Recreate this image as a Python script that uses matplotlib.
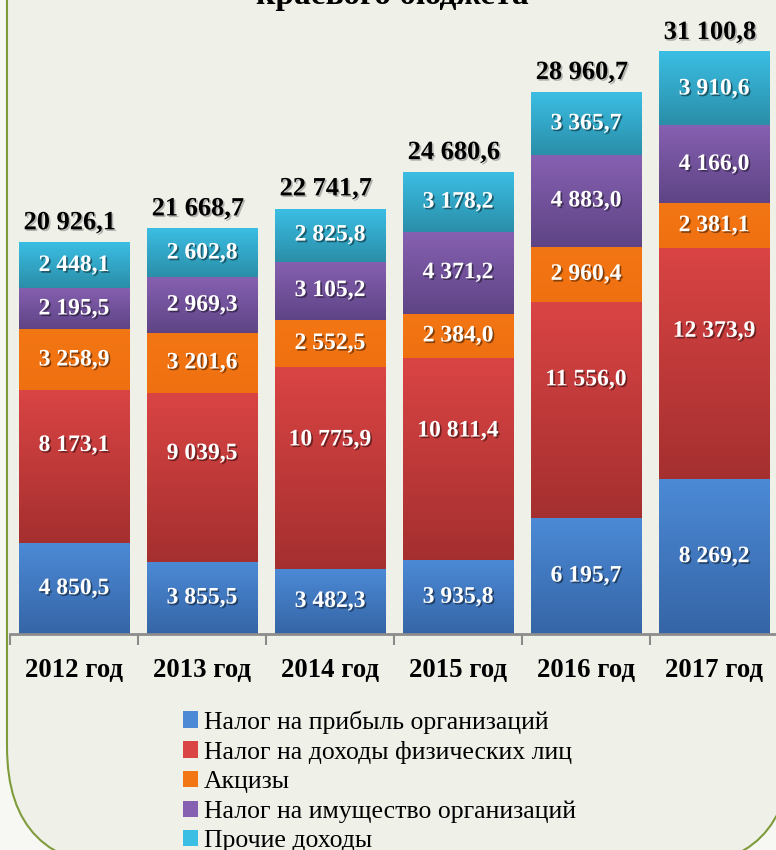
import numpy as np
import matplotlib
matplotlib.use("Agg")
import matplotlib.pyplot as plt
import matplotlib.patheffects as pe
from matplotlib.colors import LinearSegmentedColormap
from matplotlib.font_manager import FontProperties
from matplotlib.patches import FancyBboxPatch, Patch

years = ["2012 год", "2013 год", "2014 год", "2015 год", "2016 год", "2017 год"]
profit_tax = [4850.5, 3855.5, 3482.3, 3935.8, 6195.7, 8269.2]
income_tax = [8173.1, 9039.5, 10775.9, 10811.4, 11556.0, 12373.9]
excise = [3258.9, 3201.6, 2552.5, 2384.0, 2960.4, 2381.1]
property_tax = [2195.5, 2969.3, 3105.2, 4371.2, 4883.0, 4166.0]
other = [2448.1, 2602.8, 2825.8, 3178.2, 3365.7, 3910.6]
totals = [20926.1, 21668.7, 22741.7, 24680.6, 28960.7, 31100.8]

names = ["Налог на прибыль организаций", "Налог на доходы физических лиц",
         "Акцизы", "Налог на имущество организаций", "Прочие доходы"]
series = [profit_tax, income_tax, excise, property_tax, other]
# (top colour, bottom colour) of each gradient
colors = [("#4c8ad6", "#3565a6"), ("#da4444", "#a52f2f"), ("#f37614", "#ef7010"),
          ("#8660b1", "#5e4485"), ("#3bbee4", "#2a8ea8")]
label_pos = [0.5, 0.64, 0.5, 0.5, 0.5]

SERIF = "Liberation Serif"


def fmt(v):
    return f"{v:,.1f}".replace(",", " ").replace(".", ",")


fig = plt.figure(figsize=(7.76, 8.5), dpi=100)
fig.patch.set_facecolor("#f7f7f3")

# background panel with rounded border
bg = fig.add_axes([0, 0, 1, 1], zorder=0)
bg.set_xlim(0, 776)
bg.set_ylim(850, 0)
bg.axis("off")
bg.add_patch(FancyBboxPatch((7, -200), 784, 1067,
                            boxstyle="round,pad=0,rounding_size=120",
                            facecolor="#eff1e9", edgecolor="#7f9c3c", linewidth=1.5))

ax = fig.add_axes([10 / 776, 216 / 850, 768 / 776, 634 / 850], zorder=1)
ax.patch.set_alpha(0)
x = np.arange(len(years))
bottom = np.zeros(len(years))
shadow_w = [pe.withSimplePatchShadow(offset=(1.2, -1.2), shadow_rgbFace="black", alpha=0.45)]

for vals, (ctop, cbot), frac in zip(series, colors, label_pos):
    bars = ax.bar(x, vals, 0.86, bottom=bottom, color=ctop, linewidth=0, zorder=2)
    cmap = LinearSegmentedColormap.from_list("g", [cbot, ctop])
    grad = np.linspace(0, 1, 256).reshape(-1, 1)
    for b, v in zip(bars, vals):
        x0, y0, w, h = b.get_x(), b.get_y(), b.get_width(), b.get_height()
        ax.imshow(grad, extent=(x0, x0 + w, y0, y0 + h), origin="lower",
                  cmap=cmap, aspect="auto", zorder=2.5, interpolation="bilinear")
        ax.text(x0 + w / 2, y0 + h * frac, fmt(v), ha="center", va="center",
                color="white", fontsize=17, fontweight="bold", family=SERIF,
                zorder=4, path_effects=shadow_w)
    bottom += np.array(vals)

shadow_k = [pe.withSimplePatchShadow(offset=(1.2, -1.2), shadow_rgbFace="#777777", alpha=0.5)]
for xi, t in zip(x, totals):
    ax.annotate(fmt(t), (xi, t), xytext=(-3, 6), textcoords="offset points",
                ha="center", va="bottom", fontsize=19, fontweight="bold",
                family=SERIF, color="black", path_effects=shadow_k, zorder=4)

ax.set_xlim(-0.5, 5.5)
ax.set_ylim(0, 33900)
for s in ["left", "right", "top"]:
    ax.spines[s].set_visible(False)
ax.spines["bottom"].set_color("#8c8c8c")
ax.spines["bottom"].set_linewidth(2)
ax.set_yticks([])
ax.set_xticks(x)
ax.set_xticklabels(years, fontsize=19.3, fontweight="bold", family=SERIF)
ax.tick_params(axis="x", which="major", length=0, pad=17)
ax.set_xticks(np.arange(-0.5, 6, 1), minor=True)
ax.tick_params(axis="x", which="minor", length=8, width=1.5, color="#8c8c8c", direction="out")

# title (only its lower part is visible)
fig.text(0.506, 1 - 4 / 850, "краевого бюджета", ha="center", va="baseline",
         fontsize=24, fontweight="bold", family=SERIF)

handles = [Patch(facecolor=c[0], edgecolor="none") for c in colors]
fig.legend(handles, names, loc="upper left", bbox_to_anchor=(183 / 776, 1 - 710 / 850),
           frameon=False, prop=FontProperties(family=SERIF, size=18.5),
           handlelength=0.6, handleheight=0.6, handletextpad=0.2,
           labelspacing=0.28, borderpad=0, borderaxespad=0)

fig.savefig("out.png", dpi=100, facecolor=fig.get_facecolor())
